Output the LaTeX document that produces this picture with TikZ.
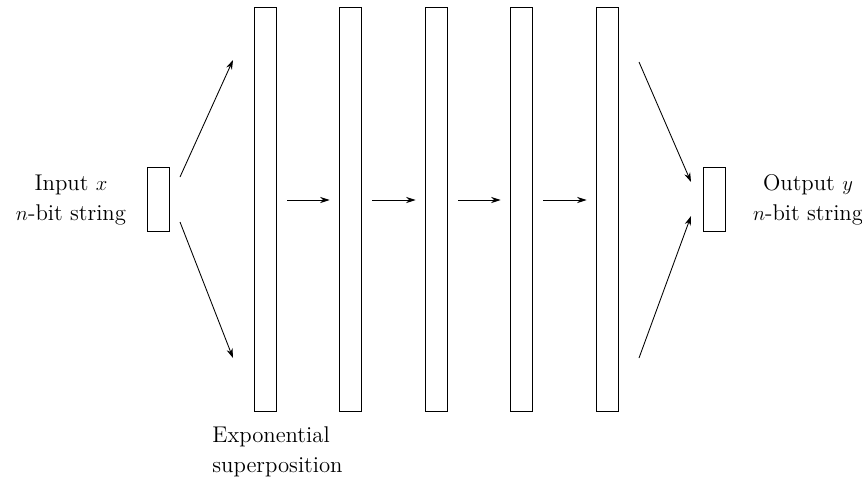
\documentclass[tikz,border=0pt]{standalone}
\usetikzlibrary{arrows.meta}
\begin{document}
\begin{tikzpicture}[x=0.58pt,y=-0.58pt,
  bar/.style={draw,line width=0.5pt,minimum width=22*0.58pt,inner sep=0pt},
  tallbar/.style={bar,minimum height=404*0.58pt},
  smallbar/.style={bar,minimum height=64*0.58pt},
  arr/.style={line width=0.5pt,-{Stealth[length=5.5pt,width=3.6pt]}},
  lbl/.style={font=\fontsize{13.2}{17.4}\selectfont,inner sep=0pt}]
\useasboundingbox (0,0) rectangle (862,481);
\node[smallbar] (in) at (158.5,199.5) {};
\node[smallbar] (out) at (714,199.5) {};
\node[tallbar] (b1) at (265,209) {};
\node[tallbar] (b2) at (350,209) {};
\node[tallbar] (b3) at (436,209) {};
\node[tallbar] (b4) at (521,209) {};
\node[tallbar] (b5) at (607,209) {};
\coordinate (l1s) at (180,177); \coordinate (l1e) at (233,60);
\coordinate (l2s) at (180,222); \coordinate (l2e) at (233,358);
\coordinate (r1s) at (639,62); \coordinate (r1e) at (691,182);
\coordinate (r2s) at (639,358); \coordinate (r2e) at (691,216);
\draw[arr] (l1s) -- (l1e);
\draw[arr] (l2s) -- (l2e);
\draw[arr] (r1s) -- (r1e);
\draw[arr] (r2s) -- (r2e);
\foreach \a/\b in {b1/b2,b2/b3,b3/b4,b4/b5}
  \draw[arr] ([xshift=11*0.58pt]\a.east|-0,200) -- ([xshift=-9*0.58pt]\b.west|-0,200);
\node[lbl,align=center] (inlbl) at (71,200) {Input $x$\\$n$-bit string};
\node[lbl,align=center] (outlbl) at (808,200) {Output $y$\\$n$-bit string};
\node[lbl,align=left,anchor=north west] (explbl) at (212,426) {Exponential\\superposition};
\end{tikzpicture}
\end{document}
